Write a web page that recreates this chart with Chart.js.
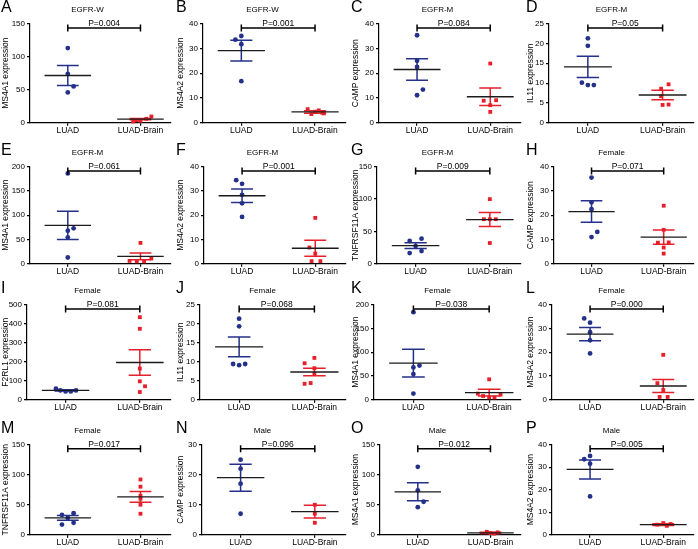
<!DOCTYPE html>
<html>
<head>
<meta charset="utf-8">
<script src="https://cdn.jsdelivr.net/npm/chart.js@4/dist/chart.umd.min.js"></script>
<style>
  body { margin: 0; background: #fff; width: 698px; height: 549px; position: relative; overflow: hidden;
         font-family: "Liberation Sans", Arial, sans-serif; }
  .panel { position: absolute; }
  .panel canvas { display: block; }
  .letter { position: absolute; left: 1px; top: -1px; font-size: 16px; line-height: 1; color: #000; }
</style>
</head>
<body>
<script>
// ---- data ----
const panelLetters = ['A','B','C','D','E','F','G','H','I','J','K','L','M','N','O','P'];
const panelTitles = ['EGFR-W','EGFR-W','EGFR-M','EGFR-M','EGFR-M','EGFR-M','EGFR-M','Female',
                     'Female','Female','Female','Female','Female','Male','Male','Male'];
const genes = ['MS4A1','MS4A2','CAMP','IL11','MS4A1','MS4A2','TNFRSF11A','CAMP',
               'F2RL1','IL11','MS4A1','MS4A2','TNFRSF11A','CAMP','MS4A1','MS4A2'];
const pValues = ['0.004','0.001','0.084','0.05','0.061','0.001','0.009','0.071',
                 '0.081','0.068','0.038','0.000','0.017','0.096','0.012','0.005'];
const groups = ['LUAD', 'LUAD-Brain'];
const yMax = [150,40,40,25,200,40,150,40,500,25,200,40,150,30,150,40];
const yStep = [50,10,10,5,50,10,50,10,100,5,50,10,50,10,50,10];

const luadValues = [
  [113,74,55,46], [35,33.5,31.7,16.8], [35.3,25,22.5,13.4,11.1], [21.3,19.4,10.1,9.5,9.5],
  [186,73,68,54.5,13], [34.4,32.9,28.4,24.9,19.3], [38.8,35.2,27.4,19.7,16.5], [35.5,25.3,22.5,13.1,11],
  [58,49,44,44,49], [21.3,19.3,9.4,9.1,9.4], [184,72,68,54,13], [34.2,32.4,28.4,25,19.5],
  [36,33,28,20,17], [25,22,17,7], [113,74,55,46], [35,33.5,31.5,17]
];
const luadOffsets = [
  [0,0,0.08,0], [0,-0.08,0,0], [0,0,0,0.08,0], [0,0,-0.08,0,0.08],
  [0,0.08,0,0,0], [-0.08,0,0,0,0], [0.08,-0.08,0,0.08,-0.08], [0,0,0,0.08,0],
  [-0.13,-0.07,0,0.07,0.14], [0,0,-0.08,0,0.08], [0,0.08,0,0,0], [-0.08,0,0,0,0],
  [0.08,-0.08,0,0.08,-0.08], [0,0,0,0], [0,0,0.08,0], [0,-0.08,0,0]
];
const brainValues = [
  [9.5,6,4,3,2], [5.5,4.5,4,3.5,5,3.8], [23.9,8.9,9.1,7.1,4.4], [9.7,8.6,6.7,4.5,4.6],
  [43,11,6,5,5], [18.9,6.7,4.2,1.1,1.1], [99.8,68.8,68.8,68.8,32.1], [23.9,14,8.7,8.8,6.7,4.2],
  [434,373,164,97,71,41], [11,9.6,8.3,6.8,4.2,4.4], [43,13,11,8,5,5], [18.9,7,4.1,1.2,1.2],
  [92,80,65,60,50,35], [10,7,4], [5,3,2,4], [5.2,4.5,4,4.8]
];
const brainOffsets = [
  [0.15,0.08,-0.05,0,-0.1], [-0.1,0,0.1,-0.05,0.05,0.12], [0,-0.09,0.08,0,0], [0.08,-0.02,-0.02,0,0.08],
  [0,0.15,-0.15,-0.05,0.05], [0,-0.08,0,-0.05,0.07], [0,-0.08,0,0.08,0], [0,0,-0.08,0.07,0,0],
  [0,0,0,0,0.07,0], [0,-0.13,0,0,-0.13,-0.05], [0,-0.15,0.15,-0.08,0,0.07], [0,-0.08,0,-0.05,0.06],
  [0,0,0,0,0,0], [0,0,0], [-0.05,0,0.05,0.1], [0,-0.08,0.05,0.1]
];
const luadMean = [71.5,29.1,21.5,14.1,79,28,27.9,21.5,49.5,13.9,77,27.6,28,19,71.5,29];
const luadSem  = [15.2,4.2,4.35,2.7,29,2.8,4.4,4.45,3,2.6,29,2.8,4,4.5,15,4.2];
const brainMean = [5.6,4.4,10.5,7.0,15.2,6.4,68.3,10.95,196,7.3,15,5.8,63,7.7,3.3,4.5];
const brainSem  = [1,0.5,3.5,1.2,6.9,3.25,10.8,2.95,67,1.0,7,2.75,9,2.1,1,0.4];

// ---- layout ----
const colLeft = [0,175,350,525];
const colWidth = [175,175,175,173];
const rowTop = [0,143,281,421];
const rowHeight = [137,135,133,128];
const axisX = [30,28,29,24, 30,29,27,29, 27,25,24,27, 30,27,30,27];

const BLUE = '#24318a';
const RED = '#e5202a';
const FONT = '"Liberation Sans", Arial, sans-serif';

Chart.defaults.font.family = FONT;
Chart.defaults.color = '#000';

// significance bracket with P value, placed through the chart scales
const bracketPlugin = {
  id: 'bracket',
  afterDatasetsDraw(chart, args, opts) {
    const { ctx, scales: { x, y } } = chart;
    const yb = y.getPixelForValue(opts.level);
    const x0 = x.getPixelForValue(0), x1 = x.getPixelForValue(1);
    ctx.save();
    ctx.strokeStyle = '#000';
    ctx.lineWidth = 1.5;
    ctx.beginPath();
    ctx.moveTo(x0, yb); ctx.lineTo(x1, yb);
    ctx.moveTo(x0, yb - 3.5); ctx.lineTo(x0, yb + 3.5);
    ctx.moveTo(x1, yb - 3.5); ctx.lineTo(x1, yb + 3.5);
    ctx.stroke();
    ctx.fillStyle = '#000';
    ctx.font = '8.5px ' + FONT;
    ctx.textAlign = 'center';
    ctx.textBaseline = 'bottom';
    ctx.fillText('P=' + opts.p, (x0 + x1) / 2, yb);
    ctx.restore();
  }
};

function meanLine(c, m) {
  return [{ x: c - 0.32, y: m }, { x: c + 0.32, y: m }];
}
function semLines(c, m, s) {
  return [
    { x: c - 0.15, y: m + s }, { x: c + 0.15, y: m + s }, { x: c, y: null },
    { x: c, y: m + s }, { x: c, y: m - s }, { x: c, y: null },
    { x: c - 0.15, y: m - s }, { x: c + 0.15, y: m - s }
  ];
}
function lineSet(data, color, width) {
  return { data, showLine: true, borderColor: color, borderWidth: width, pointRadius: 0,
           spanGaps: false, fill: false, clip: false };
}

function buildConfig(i) {
  return {
    type: 'scatter',
    data: {
      datasets: [
        lineSet(meanLine(0, luadMean[i]), '#1b1b1b', 1.3),
        lineSet(meanLine(1, brainMean[i]), '#1b1b1b', 1.3),
        lineSet(semLines(0, luadMean[i], luadSem[i]), BLUE, 1.5),
        lineSet(semLines(1, brainMean[i], brainSem[i]), RED, 1.5),
        {
          data: luadValues[i].map((v, k) => ({ x: luadOffsets[i][k], y: v })),
          pointStyle: 'circle', pointRadius: 2.4, backgroundColor: BLUE, borderColor: BLUE,
          borderWidth: 0, clip: false
        },
        {
          data: brainValues[i].map((v, k) => ({ x: 1 + brainOffsets[i][k], y: v })),
          pointStyle: 'rect', pointRadius: 2.7, backgroundColor: RED, borderColor: RED,
          borderWidth: 0, clip: false
        }
      ]
    },
    options: {
      responsive: false,
      animation: false,
      devicePixelRatio: 1,
      layout: { padding: { left: 0, right: 0, top: 0, bottom: 1 } },
      plugins: {
        legend: { display: false },
        tooltip: { enabled: false },
        title: {
          display: true, text: panelTitles[i], color: '#000',
          font: { size: 8, weight: 'normal' }, padding: { top: 5, bottom: 9 }
        },
        bracket: { level: yMax[i] * 0.955, p: pValues[i] }
      },
      scales: {
        x: {
          type: 'linear', min: -0.52, max: 1.42,
          afterBuildTicks: (s) => { s.ticks = [{ value: 0 }, { value: 1 }]; },
          ticks: { callback: (v) => groups[v], font: { size: 8.5 }, padding: 0, maxRotation: 0, color: '#000' },
          grid: { drawOnChartArea: false, drawTicks: true, tickLength: 3, color: '#000', lineWidth: 1.2 },
          border: { display: true, color: '#000', width: 1.2 }
        },
        y: {
          min: 0, max: yMax[i],
          afterFit: (s) => { s.width = axisX[i]; },
          ticks: { stepSize: yStep[i], font: { size: 8 }, padding: 2, color: '#000' },
          grid: { drawOnChartArea: false, drawTicks: true, tickLength: 3, color: '#000', lineWidth: 1.2 },
          border: { display: true, color: '#000', width: 1.2 },
          title: { display: true, text: genes[i] + ' expression', font: { size: 8.5 },
                   padding: { top: 1, bottom: 1 }, color: '#000' }
        }
      }
    },
    plugins: [bracketPlugin]
  };
}

for (let i = 0; i < panelLetters.length; i++) {
  const col = i % 4, row = Math.floor(i / 4);
  const div = document.createElement('div');
  div.className = 'panel';
  div.style.left = colLeft[col] + 'px';
  div.style.top = rowTop[row] + 'px';
  const cv = document.createElement('canvas');
  cv.width = colWidth[col];
  cv.height = rowHeight[row];
  div.appendChild(cv);
  const letter = document.createElement('div');
  letter.className = 'letter';
  letter.textContent = panelLetters[i];
  div.appendChild(letter);
  document.body.appendChild(div);
  new Chart(cv, buildConfig(i));
}
</script>
</body>
</html>
